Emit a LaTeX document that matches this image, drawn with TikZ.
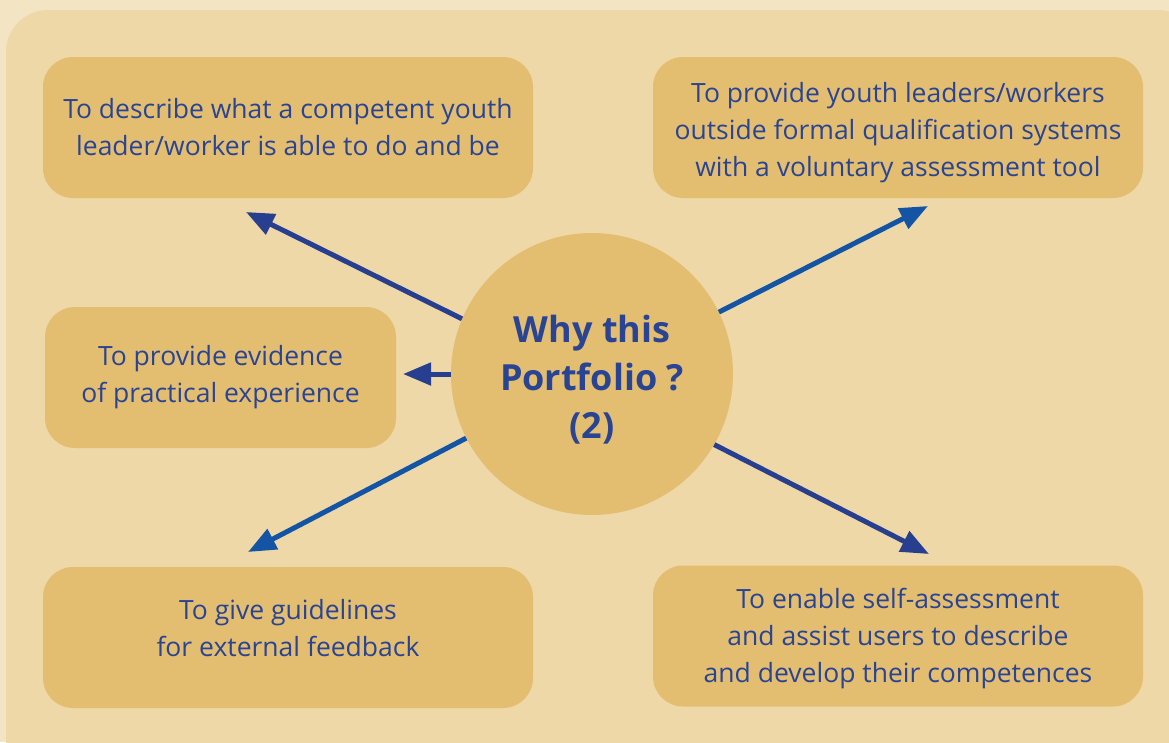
\documentclass[tikz,border=0pt]{standalone}
\usepackage{fontspec}
\setmainfont{Open Sans}
\usetikzlibrary{arrows.meta}

\definecolor{bgout}{HTML}{F3E4C3}
\definecolor{bgpanel}{HTML}{EED8A8}
\definecolor{boxfill}{HTML}{E3BE71}
\definecolor{txtblue}{HTML}{2A4494}
\definecolor{navy}{HTML}{283F8F}
\definecolor{brightblue}{HTML}{1454A4}

\tikzset{
	goal/.style={rectangle,rounded corners=30pt,fill=boxfill,text=txtblue,align=center,
		minimum width=490pt,minimum height=141pt,inner sep=0pt,
		font=\fontsize{26.5}{37}\selectfont},
	pointer/.style={line width=5pt,-{Triangle[length=28pt,width=22pt]}}
}

\begin{document}
\begin{tikzpicture}[x=1pt,y=-1pt]
	\clip (0,0) rectangle (1169,742);
	\fill [bgout] (0,0) rectangle (1169,742);
	\fill [bgpanel,rounded corners=42pt] (6,10) rectangle (1200,800);
	%
	\node [goal] (g1) at (288,127.5) {To describe what a competent youth\\leader/worker is able to do and be};
	\node [goal] (g2) at (898,127.5) {\rule{0pt}{30pt}To provide youth leaders/workers\\outside formal qualification systems\\with a voluntary assessment tool};
	\node [goal,minimum width=351pt] (g3) at (220.5,377.5) {To provide evidence\\of practical experience};
	\node [goal,text depth=19pt] (g4) at (288,637.5) {To give guidelines\\for external feedback};
	\node [goal,text depth=2pt] (g5) at (898,636) {To enable self-assessment\\and assist users to describe\\and develop their competences};
	\node [circle,fill=boxfill,text=txtblue,align=center,minimum size=282pt,inner sep=0pt,
		font=\fontsize{36}{48}\selectfont\bfseries] (c) at (592,374) {\rule{0pt}{38pt}Why this\\Portfolio ?\\(2)};
	%
	\coordinate (t1) at (246,212);
	\coordinate (t2) at (928,206);
	\coordinate (t3) at (403,374);
	\coordinate (t4) at (248,552);
	\coordinate (t5) at (929,554);
	%
	\draw [pointer,navy] (c.157.4) -- (t1);
	\draw [pointer,brightblue] (c.26.6) -- (t2);
	\draw [pointer,navy] (c.west) -- (t3);
	\draw [pointer,brightblue] (c.207.8) -- (t4);
	\draw [pointer,navy] (c.-30.9) -- (t5);
\end{tikzpicture}
\end{document}
